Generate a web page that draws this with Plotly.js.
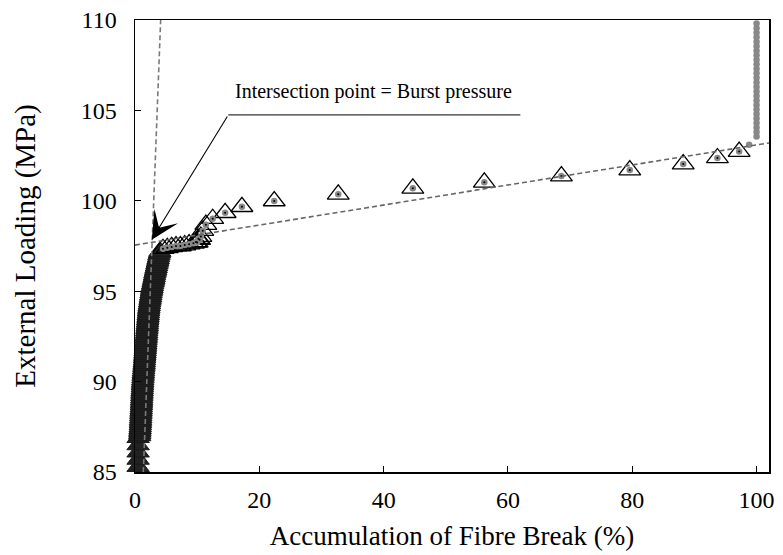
<!DOCTYPE html>
<html>
<head>
<meta charset="utf-8">
<script src="https://cdn.plot.ly/plotly-3.0.1.min.js"></script>
<style>html,body{margin:0;padding:0;background:#fff;}#chart{width:783px;height:555px;}</style>
</head>
<body>
<div id="chart"></div>
<script>
// Dense part of the response (triangles overlap into a solid band)
var denseBreak = [0.5,0.5,0.5,0.5,0.5,
  0.75,0.77,0.78,0.80,0.82,0.84,0.85,0.87,0.89,0.90,
  0.92,0.93,0.95,0.96,0.98,1.00,1.01,1.03,1.04,1.06,
  1.07,1.09,1.10,1.12,1.13,1.15,1.17,1.18,1.20,1.21,
  1.23,1.25,1.28,1.30,1.32,1.35,1.37,1.40,1.42,1.45,
  1.47,1.49,1.52,1.54,1.56,1.59,1.61,1.63,1.66,1.68,
  1.70,1.72,1.75,1.77,1.80,1.82,1.84,1.87,1.89,1.92,
  1.94,1.97,1.99,2.02,2.04,2.07,2.10,2.12,2.15,2.17,
  2.20,2.24,2.28,2.32,2.36,2.41,2.45,2.50,2.54,2.58,
  2.62,2.68,2.74,2.79,2.85,2.91,2.97,3.03,3.09,3.15,
  3.20,3.27,3.33,3.40,3.46,3.53,3.59,3.66,3.72,3.79,
  3.85,3.92,4.00];
var denseLoad = [85.3,85.7,86.1,86.5,86.9,
  87.0,87.1,87.2,87.3,87.4,87.5,87.6,87.7,87.8,87.9,
  88.0,88.1,88.2,88.3,88.4,88.5,88.6,88.7,88.8,88.9,
  89.0,89.1,89.2,89.3,89.4,89.5,89.6,89.7,89.8,89.9,
  90.0,90.1,90.2,90.3,90.4,90.5,90.6,90.7,90.8,90.9,
  91.0,91.1,91.2,91.3,91.4,91.5,91.6,91.7,91.8,91.9,
  92.0,92.1,92.2,92.3,92.4,92.5,92.6,92.7,92.8,92.9,
  93.0,93.1,93.2,93.3,93.4,93.5,93.6,93.7,93.8,93.9,
  94.0,94.1,94.2,94.3,94.4,94.5,94.6,94.7,94.8,94.9,
  95.0,95.1,95.2,95.3,95.4,95.5,95.6,95.7,95.8,95.9,
  96.0,96.1,96.2,96.3,96.4,96.5,96.6,96.7,96.8,96.9,
  97.0,97.1,97.2];

// Sparse part (open triangles with grey dots)
var sparseBreak = [4.5,5.2,5.9,6.6,7.3,8.0,8.7,9.4,9.8,10.0,10.2,10.4,10.6,10.9,11.4,12.5,14.5,17.2,22.4,32.7,44.7,56.2,68.6,79.6,88.2,93.7,97.2];
var sparseLoad  = [97.35,97.4,97.45,97.5,97.5,97.55,97.6,97.65,97.72,97.7,97.9,97.85,98.02,98.35,98.68,99.01,99.34,99.67,99.99,100.36,100.69,101.02,101.37,101.7,102.03,102.37,102.72];

// Grey points after full break
var finalBreak = [98.8,100,100,100,100,100,100,100,100,100,100,100,100,100,100,100,100,100,100,100,100,100,100,100,100,100,100,100];
var finalLoad  = [103.1,103.55,103.8,104.05,104.3,104.55,104.8,105.05,105.3,105.55,105.8,106.05,106.3,106.55,106.8,107.05,107.3,107.55,107.8,108.05,108.3,108.55,108.8,109.05,109.3,109.55,109.8,110.05];

// Fitted lines
var steepLineX = [1.34, 4.13];
var steepLineY = [85, 110];
var flatLineX = [0, 102];
var flatLineY = [97.55, 103.2];

var xTicks = [0,20,40,60,80,100];
var yTicks = [85,90,95,100,105,110];

var FONT = "'Liberation Serif', 'Times New Roman', Times, serif";

var traces = [
  {x: denseBreak, y: denseLoad, type:'scatter', mode:'markers', cliponaxis:false,
   marker:{symbol:'triangle-up', size:19.5, color:'#222', line:{color:'#1a1a1a', width:1}}, hoverinfo:'skip'},
  {x: sparseBreak, y: sparseLoad, type:'scatter', mode:'markers', cliponaxis:false,
   marker:{symbol:'triangle-up-open', size:19, color:'#000', line:{color:'#000', width:1.3}}, hoverinfo:'skip'},
  {x: sparseBreak, y: sparseLoad, type:'scatter', mode:'markers', cliponaxis:false,
   marker:{symbol:'circle', size:6.5, color:'#888'}, hoverinfo:'skip'},
  {x: sparseBreak, y: sparseLoad, type:'scatter', mode:'markers', cliponaxis:false,
   marker:{symbol:'circle', size:2, color:'#000'}, hoverinfo:'skip'},
  {x: finalBreak, y: finalLoad, type:'scatter', mode:'markers', cliponaxis:true,
   marker:{symbol:'circle', size:6.5, color:'#888'}, hoverinfo:'skip'},
  {x: steepLineX, y: steepLineY, type:'scatter', mode:'lines',
   line:{color:'#7a7a7a', width:1.6, dash:'5px,3px'}, hoverinfo:'skip'},
  {x: flatLineX, y: flatLineY, type:'scatter', mode:'lines',
   line:{color:'#666', width:1.6, dash:'5px,3px'}, hoverinfo:'skip'}
];

var layout = {
  width:783, height:555,
  margin:{l:135, r:14, t:20, b:83},
  paper_bgcolor:'#fff', plot_bgcolor:'#fff',
  showlegend:false,
  font:{family:FONT, color:'#000'},
  xaxis:{range:[0,102], tickvals:xTicks, ticktext:xTicks.map(String), ticks:'inside', ticklen:6, tickwidth:1, tickcolor:'#000',
    showline:true, linecolor:'#000', linewidth:1.5, mirror:true, showgrid:false, zeroline:false,
    tickfont:{family:FONT, size:24, color:'#000'}, ticklabelstandoff:6,
    title:{text:'Accumulation of Fibre Break (%)', font:{family:FONT, size:27, color:'#000'}, standoff:14}},
  yaxis:{range:[85,110], tickvals:yTicks, ticktext:yTicks.map(String), ticks:'inside', ticklen:6, tickwidth:1, tickcolor:'#000',
    showline:true, linecolor:'#000', linewidth:1.5, mirror:true, showgrid:false, zeroline:false,
    tickfont:{family:FONT, size:24, color:'#000'}, ticklabelstandoff:12,
    title:{text:'External Loading (MPa)', font:{family:FONT, size:29, color:'#000'}, standoff:36}},
  annotations:[
    {x:2.7, y:97.85, xref:'x', yref:'y', ax:15, ay:104.75, axref:'x', ayref:'y', text:'', showarrow:true,
     arrowhead:3, arrowsize:4.2, arrowwidth:1.1, arrowcolor:'#000'},
    {x:38.3, y:106.05, xref:'x', yref:'y', text:'Intersection point = Burst pressure', showarrow:false,
     font:{family:FONT, size:20, color:'#000'}}
  ],
  shapes:[
    {type:'line', xref:'x', yref:'y', x0:15, x1:62, y0:104.75, y1:104.75, line:{color:'#000', width:1}}
  ]
};

Plotly.newPlot('chart', traces, layout, {staticPlot:true, displayModeBar:false});
</script>
</body>
</html>
